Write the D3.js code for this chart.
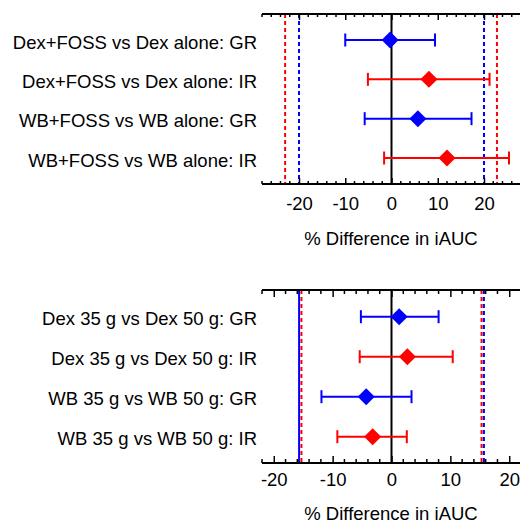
<!DOCTYPE html>
<html><head><meta charset="utf-8">
<script src="https://cdn.jsdelivr.net/npm/d3@7"></script>
<style>html,body{margin:0;padding:0;background:#fff;} svg{display:block;font-family:"Liberation Sans",Arial,sans-serif;}</style>
</head><body>
<svg id="c" width="520" height="525"></svg>
<script>
// ---- data ----
const topLabels = ["Dex+FOSS vs Dex alone: GR", "Dex+FOSS vs Dex alone: IR", "WB+FOSS vs WB alone: GR", "WB+FOSS vs WB alone: IR"];
const topType = ["GR", "IR", "GR", "IR"];
const topMean = [-0.3, 8.1, 5.7, 12.0];
const topLow = [-10.0, -5.1, -5.8, -1.6];
const topHigh = [9.4, 21.2, 17.3, 25.4];
const topLimitsGR = [-20, 20];
const topLimitsIR = [-23, 22.8];

const botLabels = ["Dex 35 g vs Dex 50 g: GR", "Dex 35 g vs Dex 50 g: IR", "WB 35 g vs WB 50 g: GR", "WB 35 g vs WB 50 g: IR"];
const botType = ["GR", "IR", "GR", "IR"];
const botMean = [1.3, 2.7, -4.3, -3.2];
const botLow = [-5.2, -5.4, -11.9, -9.2];
const botHigh = [8.0, 10.4, 3.4, 2.6];
const botLimitsGR = [-15.7, 15.7];
const botLimitsIR = [-15.3, 15.3];

const majorTicks = [-20, -10, 0, 10, 20];
const xTitle = "% Difference in iAUC";

const colors = {GR: "#0000ff", IR: "#ff0000"};
const svg = d3.select("#c");
const FS = 18.5;

function panel(o) {
  const x = d3.scaleLinear().domain(o.domain).range([262, 521]);
  const y = d3.scalePoint().domain(o.labels).range([o.rowTop, o.rowBot]);
  const g = svg.append("g");
  const minor = d3.range(Math.ceil(o.domain[0] / 2) * 2, o.domain[1] + 0.001, 2).filter(v => majorTicks.indexOf(v) < 0);

  // limit lines
  const limits = [];
  o.limGR.forEach((v, i) => limits.push({v, c: colors.GR, dash: (o.solidGRLeft && i === 0) ? null : "4,3"}));
  o.limIR.forEach(v => limits.push({v, c: colors.IR, dash: "4,3"}));
  g.selectAll(".lim").data(limits).join("line")
    .attr("x1", d => x(d.v)).attr("x2", d => x(d.v))
    .attr("y1", o.axTop).attr("y2", o.axBot)
    .attr("stroke", d => d.c).attr("stroke-width", 2)
    .attr("stroke-dasharray", d => d.dash);

  // zero line
  g.append("line").attr("x1", x(0)).attr("x2", x(0)).attr("y1", o.axTop).attr("y2", o.axBot)
    .attr("stroke", "#000").attr("stroke-width", 2);

  // axes (top and bottom, inward ticks)
  const axBottom = d3.axisBottom(x).tickValues(majorTicks).tickSize(-o.major).tickPadding(0).tickFormat(d3.format("d"));
  const gb = g.append("g").attr("transform", `translate(0,${o.axBot})`).call(axBottom);
  gb.select(".domain").remove();
  gb.selectAll(".tick line").attr("stroke", "#000").attr("stroke-width", 1.5);
  gb.selectAll(".tick text").attr("y", o.tickLabelDy).attr("dy", 0).attr("font-size", FS).attr("fill", "#000")
    .text(d => d < 0 ? "-" + Math.abs(d) : d);
  gb.append("g").selectAll("line").data(minor).join("line")
    .attr("x1", d => x(d)).attr("x2", d => x(d)).attr("y1", 0).attr("y2", -o.minor)
    .attr("stroke", "#000").attr("stroke-width", 1.5);
  gb.append("line").attr("x1", 262).attr("x2", 521).attr("stroke", "#000").attr("stroke-width", 2);

  const axTopA = d3.axisTop(x).tickValues(majorTicks).tickSize(-o.major).tickFormat("");
  const gt = g.append("g").attr("transform", `translate(0,${o.axTop})`).call(axTopA);
  gt.select(".domain").remove();
  gt.selectAll(".tick line").attr("stroke", "#000").attr("stroke-width", 1.5);
  gt.append("g").selectAll("line").data(minor).join("line")
    .attr("x1", d => x(d)).attr("x2", d => x(d)).attr("y1", 0).attr("y2", o.minor)
    .attr("stroke", "#000").attr("stroke-width", 1.5);
  gt.append("line").attr("x1", 262).attr("x2", 521).attr("stroke", "#000").attr("stroke-width", 2);

  // rows
  const rows = o.labels.map((l, i) => ({l, t: o.type[i], m: o.mean[i], lo: o.low[i], hi: o.high[i]}));
  const rg = g.selectAll(".row").data(rows).join("g").attr("transform", d => `translate(0,${y(d.l)})`);
  rg.append("line").attr("x1", d => x(d.lo)).attr("x2", d => x(d.hi))
    .attr("stroke", d => colors[d.t]).attr("stroke-width", 2);
  rg.append("line").attr("x1", d => x(d.lo)).attr("x2", d => x(d.lo)).attr("y1", -6.5).attr("y2", 6.5)
    .attr("stroke", d => colors[d.t]).attr("stroke-width", 2);
  rg.append("line").attr("x1", d => x(d.hi)).attr("x2", d => x(d.hi)).attr("y1", -6.5).attr("y2", 6.5)
    .attr("stroke", d => colors[d.t]).attr("stroke-width", 2);
  rg.append("path").attr("d", d3.symbol(d3.symbolSquare, 145)())
    .attr("transform", d => `translate(${x(d.m)},0) rotate(45)`)
    .attr("fill", d => colors[d.t]);
  rg.append("text").attr("x", 257).attr("y", 8.5).attr("text-anchor", "end")
    .attr("font-size", FS).attr("fill", "#000").text(d => d.l);

  g.append("text").attr("x", 391).attr("y", o.titleY).attr("text-anchor", "middle")
    .attr("font-size", FS).attr("fill", "#000").text(xTitle);
}

panel({domain: [-28, 28], labels: topLabels, type: topType, mean: topMean, low: topLow, high: topHigh,
  limGR: topLimitsGR, limIR: topLimitsIR, axTop: 14, axBot: 184, rowTop: 40, rowBot: 158,
  major: 6, minor: 3, tickLabelDy: 25.5, titleY: 245, solidGRLeft: false});

panel({domain: [-22, 22], labels: botLabels, type: botType, mean: botMean, low: botLow, high: botHigh,
  limGR: botLimitsGR, limIR: botLimitsIR, axTop: 290, axBot: 463, rowTop: 316.7, rowBot: 436.7,
  major: 7, minor: 4, tickLabelDy: 23, titleY: 520, solidGRLeft: true});
</script>
</body></html>
